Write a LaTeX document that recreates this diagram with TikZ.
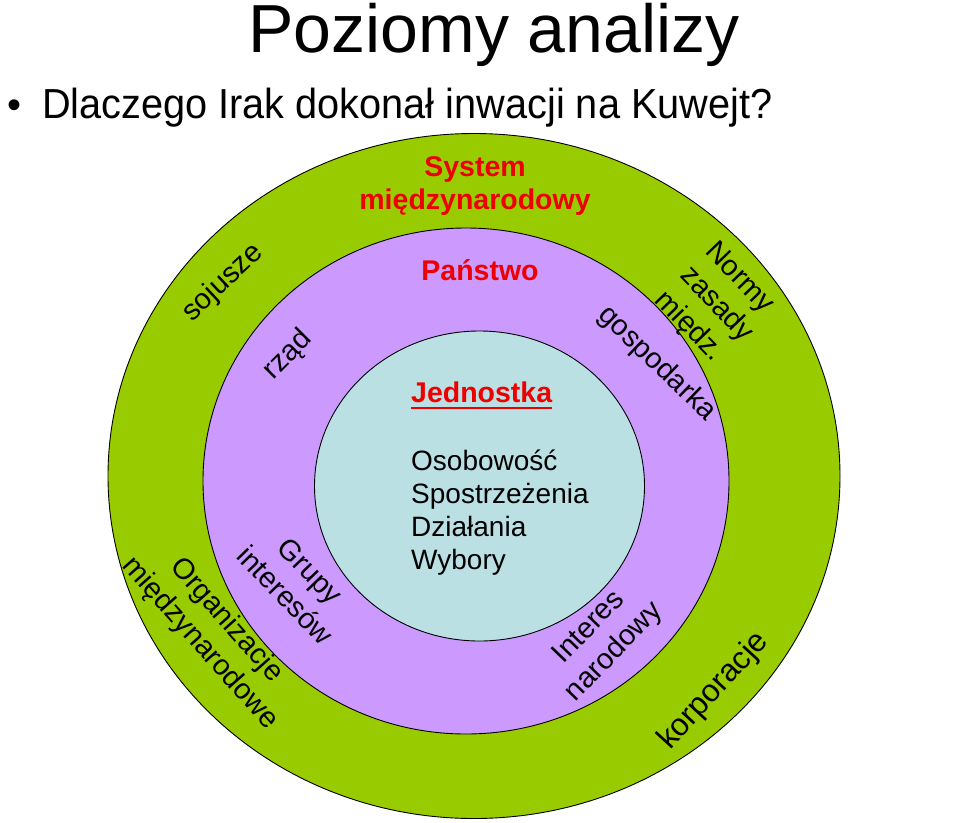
\documentclass[tikz,border=0pt]{standalone}
\usepackage{fontspec}
\setmainfont{Liberation Sans}
\definecolor{ringgreen}{HTML}{99CC00}
\definecolor{ringpurple}{HTML}{CC99FF}
\definecolor{ringblue}{HTML}{BBE0E3}
\definecolor{lblred}{HTML}{EE0000}
\begin{document}
\begin{tikzpicture}[x=1pt,y=-1pt,
  ring/.style={draw=black, line width=0.9pt},
  lbl/.style={inner sep=0pt, font=\fontsize{29}{35}\selectfont, align=center},
  redlbl/.style={inner sep=0pt, text=lblred, font=\fontsize{28.5}{33}\selectfont\bfseries},
  listtxt/.style={inner sep=0pt, anchor=base west, font=\fontsize{28}{33}\selectfont}]
\useasboundingbox[fill=white] (0,0) rectangle (960,822);

% rings
\path[ring, fill=ringgreen] (474,476) ellipse [x radius=366pt, y radius=342.5pt];
\path[ring, fill=ringpurple] (466,481) ellipse [x radius=263pt, y radius=253pt];
\path[ring, fill=ringblue] (479.5,486) ellipse [x radius=165pt, y radius=155pt];

% title and question
\node[inner sep=0pt, anchor=base, font=\fontsize{68}{76}\selectfont] (title) at (494,52) {Poziomy analizy};
\node[inner sep=0pt, anchor=base, font=\fontsize{40}{46}\selectfont] (bul) at (15,118) {•};
\node[inner sep=0pt, anchor=base west, xscale=0.945, font=\fontsize{42}{48}\selectfont] (quest) at (42,118) {Dlaczego Irak dokonał inwacji na Kuwejt?};

% level labels
\node[redlbl, anchor=base] (sys1) at (475,176) {System};
\node[redlbl, anchor=base] (sys2) at (475,209) {międzynarodowy};
\node[redlbl, anchor=base] (pan) at (480,280) {Państwo};
\node[redlbl, anchor=base west] (jed) at (411,402) {Jednostka};
\draw[lblred, line width=2.5pt] ([yshift=-6pt]jed.base west) -- ([yshift=-6pt]jed.base east);

% individual list
\node[listtxt] (l1) at (411,470) {Osobowość};
\node[listtxt] (l2) at (411,503) {Spostrzeżenia};
\node[listtxt] (l3) at (411,536) {Działania};
\node[listtxt] (l4) at (411,569) {Wybory};

% rotated labels
\node[lbl, rotate=43] (soj) at (223,283) {sojusze};
\node[lbl, rotate=45] (rzad) at (288,355) {rząd};
\node[lbl, rotate=-46, align=left] (norm) at (716,305) {Normy\\zasady\\międz.};
\node[lbl, rotate=-44] (gosp) at (657,364) {gospodarka};
\node[lbl, rotate=-46] (grup) at (298,583) {Grupy\\interesów};
\node[lbl, rotate=-48.5] (org) at (213,632) {Organizacje\\międzynarodowe};
\node[lbl, rotate=46] (intn) at (602,640) {Interes\\narodowy};
\node[lbl, rotate=47.5, font=\fontsize{31.5}{35}\selectfont] (korp) at (714,691) {korporacje};
\end{tikzpicture}
\end{document}
